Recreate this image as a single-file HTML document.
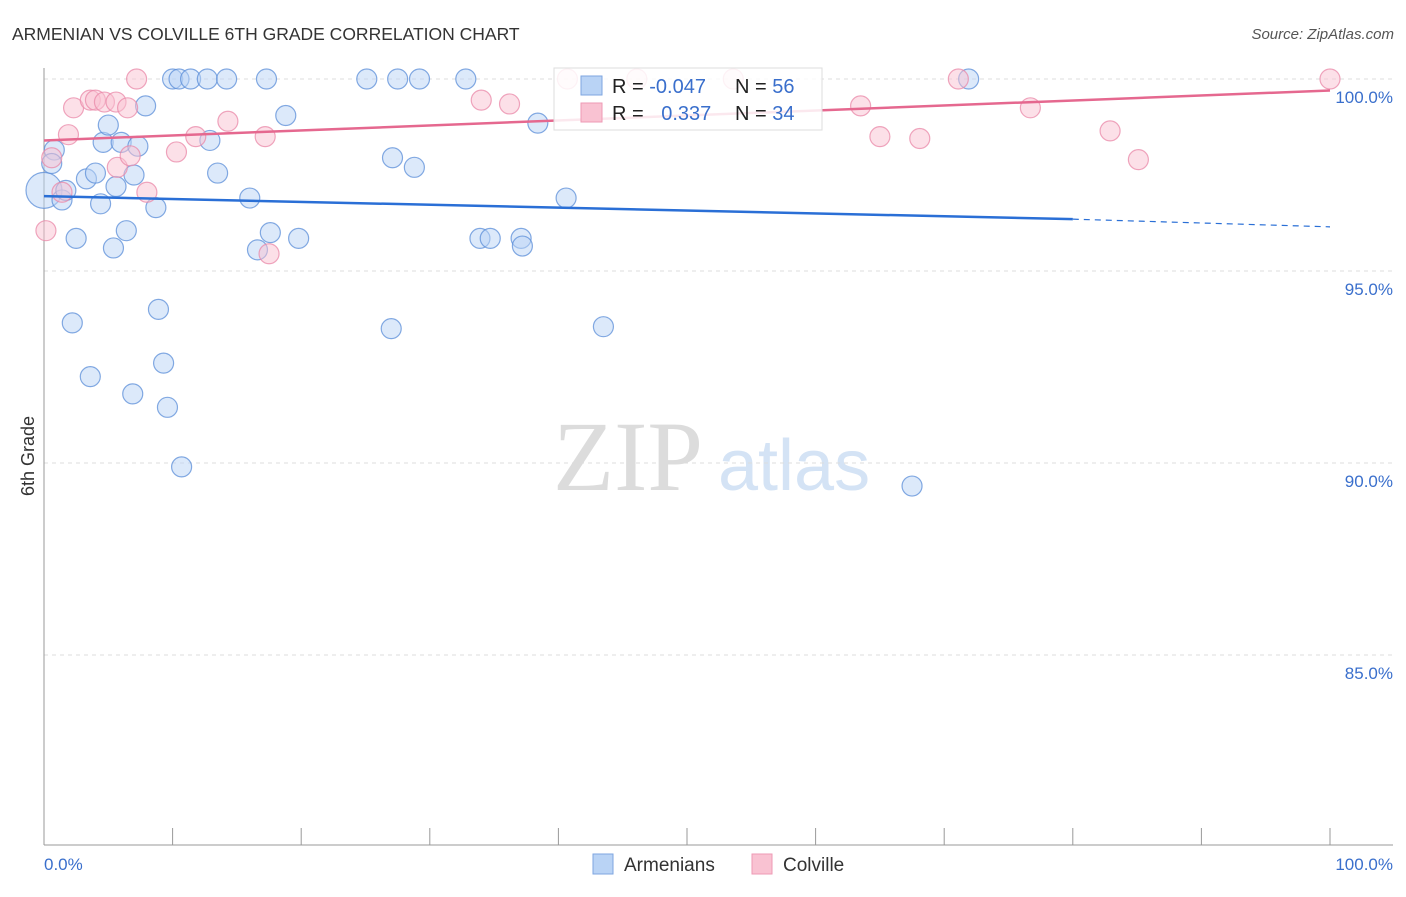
<!DOCTYPE html>
<html><head><meta charset="utf-8"><style>
body{margin:0;background:#fff;font-family:"Liberation Sans",sans-serif}
</style></head><body>
<svg width="1406" height="892" font-family="Liberation Sans, sans-serif">
<text x="12" y="40" font-size="17.5" fill="#333">ARMENIAN VS COLVILLE 6TH GRADE CORRELATION CHART</text>
<text x="1394" y="39" font-size="15" fill="#555" font-style="italic" text-anchor="end">Source: ZipAtlas.com</text>
<text x="553" y="490" font-size="100" fill="#dcdcdc" style="font-family:'Liberation Serif',serif">ZIP</text>
<text x="718" y="490" font-size="72" fill="#d4e3f5">atlas</text>
<g id="grid"></g><g id="axes"></g><g id="marks"></g>
<text transform="translate(34,456) rotate(-90)" font-size="18" fill="#333" text-anchor="middle">6th Grade</text>
<text x="44" y="870" font-size="17" fill="#3a6fcc">0.0%</text>
<text x="1393" y="870" font-size="17" fill="#3a6fcc" text-anchor="end">100.0%</text>
<g>
<rect x="554" y="68" width="268" height="62" fill="#fff" fill-opacity="0.85" stroke="#ddd"/>
<rect x="581" y="76" width="21" height="19" fill="#b9d3f5" stroke="#7ea6e0"/>
<rect x="581" y="103" width="21" height="19" fill="#f9c2d2" stroke="#ee9ab4"/>
<text x="612" y="93" font-size="20" fill="#222">R = <tspan fill="#3a6fcc">-0.047</tspan></text>
<text x="735" y="93" font-size="20" fill="#222">N = <tspan fill="#3a6fcc">56</tspan></text>
<text x="612" y="120" font-size="20" fill="#222">R = <tspan fill="#3a6fcc" dx="12">0.337</tspan></text>
<text x="735" y="120" font-size="20" fill="#222">N = <tspan fill="#3a6fcc">34</tspan></text>
</g>
<g>
<rect x="593" y="854" width="20" height="20" fill="#b9d3f5" stroke="#7ea6e0"/>
<text x="624" y="871" font-size="19" fill="#333">Armenians</text>
<rect x="752" y="854" width="20" height="20" fill="#f9c2d2" stroke="#ee9ab4"/>
<text x="783" y="871" font-size="19" fill="#333">Colville</text>
</g>
</svg>
<script>
const yTicks=[100,95,90,85];
const yTickLabels=["100.0%","95.0%","90.0%","85.0%"];
const xTicks=[10,20,30,40,50,60,70,80,90,100];
const blueX=[0,0.8,0.6,1.4,1.7,2.5,2.2,3.3,3.6,4.0,4.4,4.6,5.0,5.4,5.6,6.0,6.4,7.0,6.9,7.3,7.9,8.7,8.9,9.3,9.6,10.0,10.5,10.7,11.4,12.7,12.9,13.5,14.2,16.0,16.6,17.3,17.6,18.8,19.8,25.1,27.0,27.1,27.5,28.8,29.2,32.8,33.9,34.7,37.1,37.2,38.4,40.6,43.5,67.5,71.9];
const blueY=[97.1,98.15,97.8,96.85,97.1,95.85,93.65,97.4,92.25,97.55,96.75,98.35,98.8,95.6,97.2,98.35,96.05,97.5,91.8,98.25,99.3,96.65,94.0,92.6,91.45,100,100,89.9,100,100,98.4,97.55,100,96.9,95.55,100,96.0,99.05,95.85,100,93.5,97.95,100,97.7,100,100,95.85,95.85,95.85,95.65,98.85,96.9,93.55,89.4,100];
const pinkX=[0.15,0.6,1.4,1.9,2.3,3.6,4.0,4.7,5.6,5.7,6.5,6.7,7.2,8.0,10.3,11.8,14.3,17.2,17.5,34.0,36.2,40.7,46.1,53.6,63.5,65.0,68.1,71.1,76.7,82.9,85.1,100];
const pinkY=[96.05,97.95,97.05,98.55,99.25,99.45,99.45,99.4,99.4,97.7,99.25,98.0,100,97.05,98.1,98.5,98.9,98.5,95.45,99.45,99.35,100,100,100,99.3,98.5,98.45,100,99.25,98.65,97.9,100];
const blueTrend=[96.95,96.35,96.15];
const pinkTrend=[98.4,99.7];
const NS="http://www.w3.org/2000/svg";
const sx=v=>44+v*12.86, sy=v=>79+(100-v)*38.4;
function mk(p,t,a){const e=document.createElementNS(NS,t);for(const k in a)e.setAttribute(k,a[k]);document.getElementById(p).appendChild(e);return e;}
yTicks.forEach((t,i)=>{
 const g=mk('grid','line',{x1:44,x2:1393,y1:sy(t),y2:sy(t),stroke:'#ddd','stroke-dasharray':'4,4'});
 
 
 const l=mk('grid','text',{x:1393,y:sy(t)+24,'font-size':17,fill:'#3a6fcc','text-anchor':'end'});
 l.textContent=yTickLabels[i];
 
 
});
const ya=mk('axes','line',{x1:44,x2:44,y1:68,y2:845,stroke:'#999'});


const xa=mk('axes','line',{x1:44,x2:1393,y1:845,y2:845,stroke:'#999'});


xTicks.forEach(t=>{const e=mk('axes','line',{x1:sx(t),x2:sx(t),y1:828,y2:845,stroke:'#999'});
 
 });
function dots(X,Y,fill,stroke,name){X.forEach((x,i)=>{const r=(i===0&&name==='armenian-point')?18:10;
 const c=mk('marks','circle',{cx:sx(x),cy:sy(Y[i]),r:r,fill:fill,'fill-opacity':0.5,stroke:stroke,'stroke-opacity':0.75,'stroke-width':1.2});
 
 });}
dots(blueX,blueY,'#b9d3f5','#5b8ed8','armenian-point');
dots(pinkX,pinkY,'#f9c2d2','#ea88a8','colville-point');
let t1=mk('marks','line',{x1:sx(0),y1:sy(blueTrend[0]),x2:sx(80),y2:sy(blueTrend[1]),stroke:'#2a6fd6','stroke-width':2.5});


let t2=mk('marks','line',{x1:sx(80),y1:sy(blueTrend[1]),x2:sx(100),y2:sy(blueTrend[2]),stroke:'#2a6fd6','stroke-width':1.2,'stroke-dasharray':'6,5'});


let t3=mk('marks','line',{x1:sx(0),y1:sy(pinkTrend[0]),x2:sx(100),y2:sy(pinkTrend[1]),stroke:'#e5688f','stroke-width':2.5});


</script>
</body></html>
